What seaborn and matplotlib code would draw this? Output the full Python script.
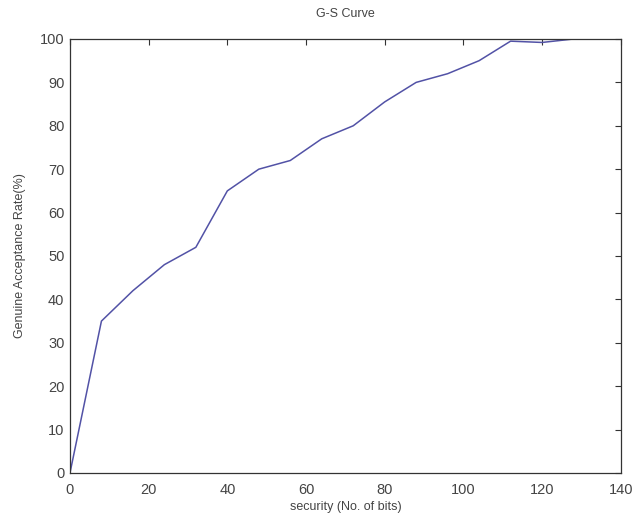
import matplotlib
matplotlib.use("Agg")
import matplotlib.pyplot as plt
import seaborn as sns
import pandas as pd

security_bits = [0, 8, 16, 24, 32, 40, 48, 56, 64, 72, 80, 88, 96, 104, 112, 120, 128]
gar_percent = [0, 35, 42, 48, 52, 65, 70, 72, 77, 80, 85.5, 90, 92, 95, 99.5, 99.2, 100]
x_ticks = [0, 20, 40, 60, 80, 100, 120, 140]
y_ticks = [0, 10, 20, 30, 40, 50, 60, 70, 80, 90, 100]

sns.set_theme(style="white")
plt.rcParams['font.family'] = ['Liberation Sans', 'DejaVu Sans']

df = pd.DataFrame({"security": security_bits, "gar": gar_percent})

fig = plt.figure(figsize=(6.36, 5.15), dpi=100)
ax = fig.add_axes([0.110, 0.0816, 0.866, 0.8427])
sns.lineplot(data=df, x="security", y="gar", ax=ax, color="#5252a6", linewidth=1.1)

ax.set_xlim(0, 140)
ax.set_ylim(0, 100)
ax.set_xticks(x_ticks)
ax.set_yticks(y_ticks)
ax.tick_params(direction="in", length=4, width=0.8, top=True, right=True,
               labelsize=10.5, colors="#333333", labelcolor="#444444")
ax.tick_params(axis="x", pad=7)
ax.tick_params(axis="y", pad=4)
for s in ax.spines.values():
    s.set_color("#333333")
    s.set_linewidth(0.9)
ax.set_xlabel("security (No. of bits)", fontsize=9, color="#444444", labelpad=3)
ax.set_ylabel("Genuine Acceptance Rate(%)", fontsize=9, color="#444444", labelpad=10)
ax.set_title("G-S Curve", fontsize=9, color="#444444", pad=16)

fig.savefig("out.png", dpi=100)
